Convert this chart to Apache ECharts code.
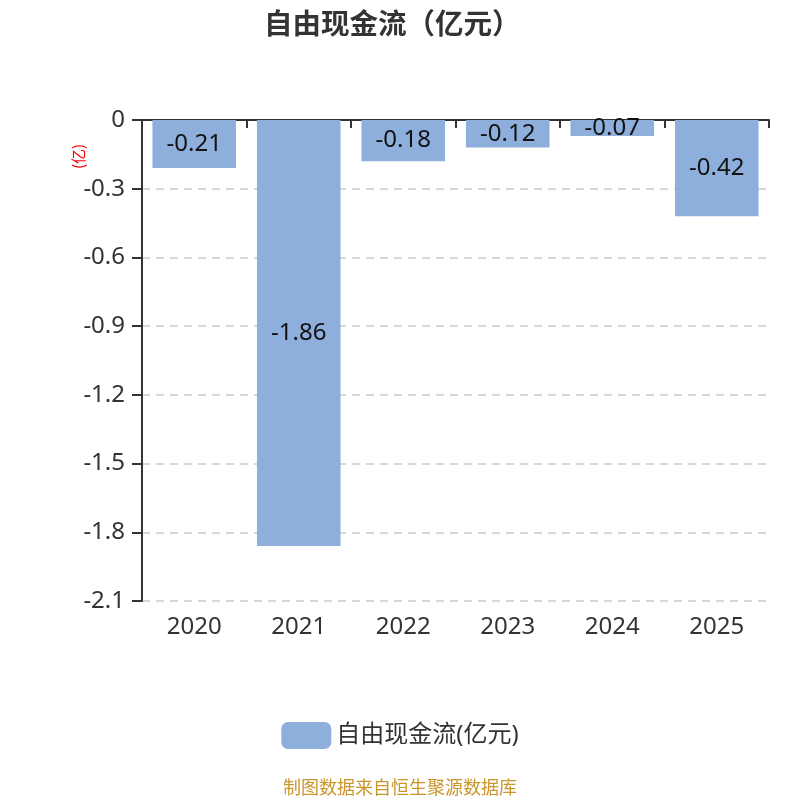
<!DOCTYPE html>
<html><head><meta charset="utf-8">
<script src="https://cdn.jsdelivr.net/npm/echarts@6/dist/echarts.min.js"></script>
<style>html,body{margin:0;padding:0;background:#fff}#c{width:800px;height:800px}</style>
</head><body><div id="c"></div>
<script>
const categories = ['2020','2021','2022','2023','2024','2025'];
const values = [-0.21,-1.86,-0.18,-0.12,-0.07,-0.42];
const seriesName = '自由现金流(亿元)';
const chart = echarts.init(document.getElementById('c'));
const font = '"Noto Sans","Noto Sans CJK SC",sans-serif';
const cjk = '"Noto Sans CJK SC","Noto Sans",sans-serif';
chart.setOption({
  textStyle:{fontFamily:font},
  title:{text:'自由现金流（亿元）',left:259,top:4,textStyle:{fontSize:28.5,fontWeight:'bold',color:'#333',fontFamily:cjk}},
  grid:{left:142,right:31,top:120,bottom:199},
  legend:{bottom:46,left:'center',itemWidth:50,itemHeight:27,itemGap:10,icon:'roundRect',textStyle:{fontSize:24,color:'#333',fontFamily:font},data:[seriesName]},
  graphic:[
    {type:'text',left:'center',top:778,style:{text:'制图数据来自恒生聚源数据库',fill:'#c8962a',fontSize:18,fontFamily:cjk}},
    {type:'text',x:71,y:169,rotation:Math.PI/2,style:{text:'(亿)',fill:'#ff0000',fontSize:15,fontFamily:cjk}}
  ],
  xAxis:[
    {type:'category',data:categories,position:'bottom',axisLine:{show:false},axisTick:{show:false},
     axisLabel:{fontSize:24,color:'#333',margin:14,fontFamily:font}},
    {type:'category',data:categories,position:'top',axisLine:{show:true,onZero:false,lineStyle:{color:'#333',width:2}},
     axisTick:{show:true,inside:true,length:8,lineStyle:{color:'#333',width:2}},axisLabel:{show:false}}
  ],
  yAxis:{type:'value',min:-2.1,max:0,interval:0.3,
    axisLine:{show:true,lineStyle:{color:'#333',width:2}},axisTick:{show:true,length:10,lineStyle:{color:'#333',width:2}},
    axisLabel:{fontSize:24,color:'#333',margin:17,fontFamily:font,formatter:v=>String(Math.round(v*10)/10)},
    splitLine:{show:true,lineStyle:{color:'#ccc',type:[8,6],width:1.5}}},
  series:[{name:seriesName,type:'bar',data:values,barWidth:'80%',xAxisIndex:0,
    itemStyle:{color:'#8eaedb'},
    label:{show:true,position:'inside',fontSize:24,color:'#111',fontFamily:font,formatter:p=>p.value.toFixed(2)}}]
});
</script></body></html>
